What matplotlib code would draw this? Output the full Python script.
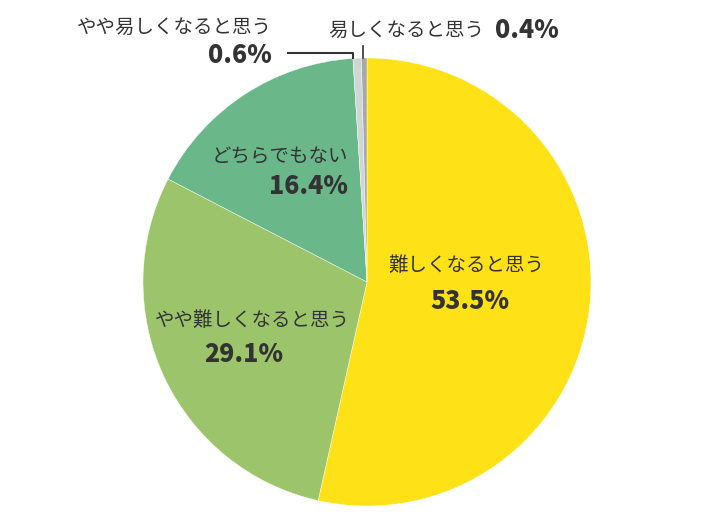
import matplotlib.pyplot as plt

plt.rcParams['font.family'] = ['Noto Sans CJK JP', 'DejaVu Sans']

labels = ['難しくなると思う', 'やや難しくなると思う', 'どちらでもない',
          'やや易しくなると思う', '易しくなると思う']
values = [53.5, 29.1, 16.4, 0.6, 0.4]
colors = ['#FFE117', '#9CC56B', '#6AB88A', '#D0D6D6', '#A8A8A8']

W, H = 720, 520
cx, cy, r = 367, H - 282, 224

fig = plt.figure(figsize=(7.2, 5.2), dpi=100)
ax = fig.add_axes([0, 0, 1, 1])

ax.pie(values, colors=colors, startangle=90, counterclock=False,
       center=(cx, cy), radius=r, frame=True,
       wedgeprops={'edgecolor': 'white', 'linewidth': 0.3})
ax.set_xlim(0, W)
ax.set_ylim(0, H)
ax.set_aspect('equal')
ax.axis('off')

txt = '#333333'
lab_fs = 14
pct_fs = 18

def y(p):
    return H - p

# inside labels
ax.text(466, y(265), labels[0], fontsize=lab_fs, color=txt, ha='center', va='center')
ax.text(470, y(301), f'{values[0]}%', fontsize=pct_fs, color=txt, ha='center', va='center', fontweight='heavy')
ax.text(252, y(320), labels[1], fontsize=lab_fs, color=txt, ha='center', va='center')
ax.text(244, y(354), f'{values[1]}%', fontsize=pct_fs, color=txt, ha='center', va='center', fontweight='heavy')
ax.text(348, y(157), labels[2], fontsize=lab_fs, color=txt, ha='right', va='center')
ax.text(348, y(186), f'{values[2]}%', fontsize=pct_fs, color=txt, ha='right', va='center', fontweight='heavy')

# outside labels
ax.text(272, y(27), labels[3], fontsize=lab_fs, color=txt, ha='right', va='center')
ax.text(272, y(55), f'{values[3]}%', fontsize=pct_fs, color=txt, ha='right', va='center', fontweight='heavy')
ax.plot([288, 353, 353], [y(52.5), y(52.5), y(58)], color=txt, lw=1.5)

ax.text(328, y(30), labels[4], fontsize=lab_fs, color=txt, ha='left', va='center')
ax.text(495, y(30), f'{values[4]}%', fontsize=pct_fs, color=txt, ha='left', va='center', fontweight='heavy')
ax.plot([363, 363], [y(46), y(58)], color=txt, lw=1.2)

fig.savefig('out.png', dpi=100, facecolor='white')
